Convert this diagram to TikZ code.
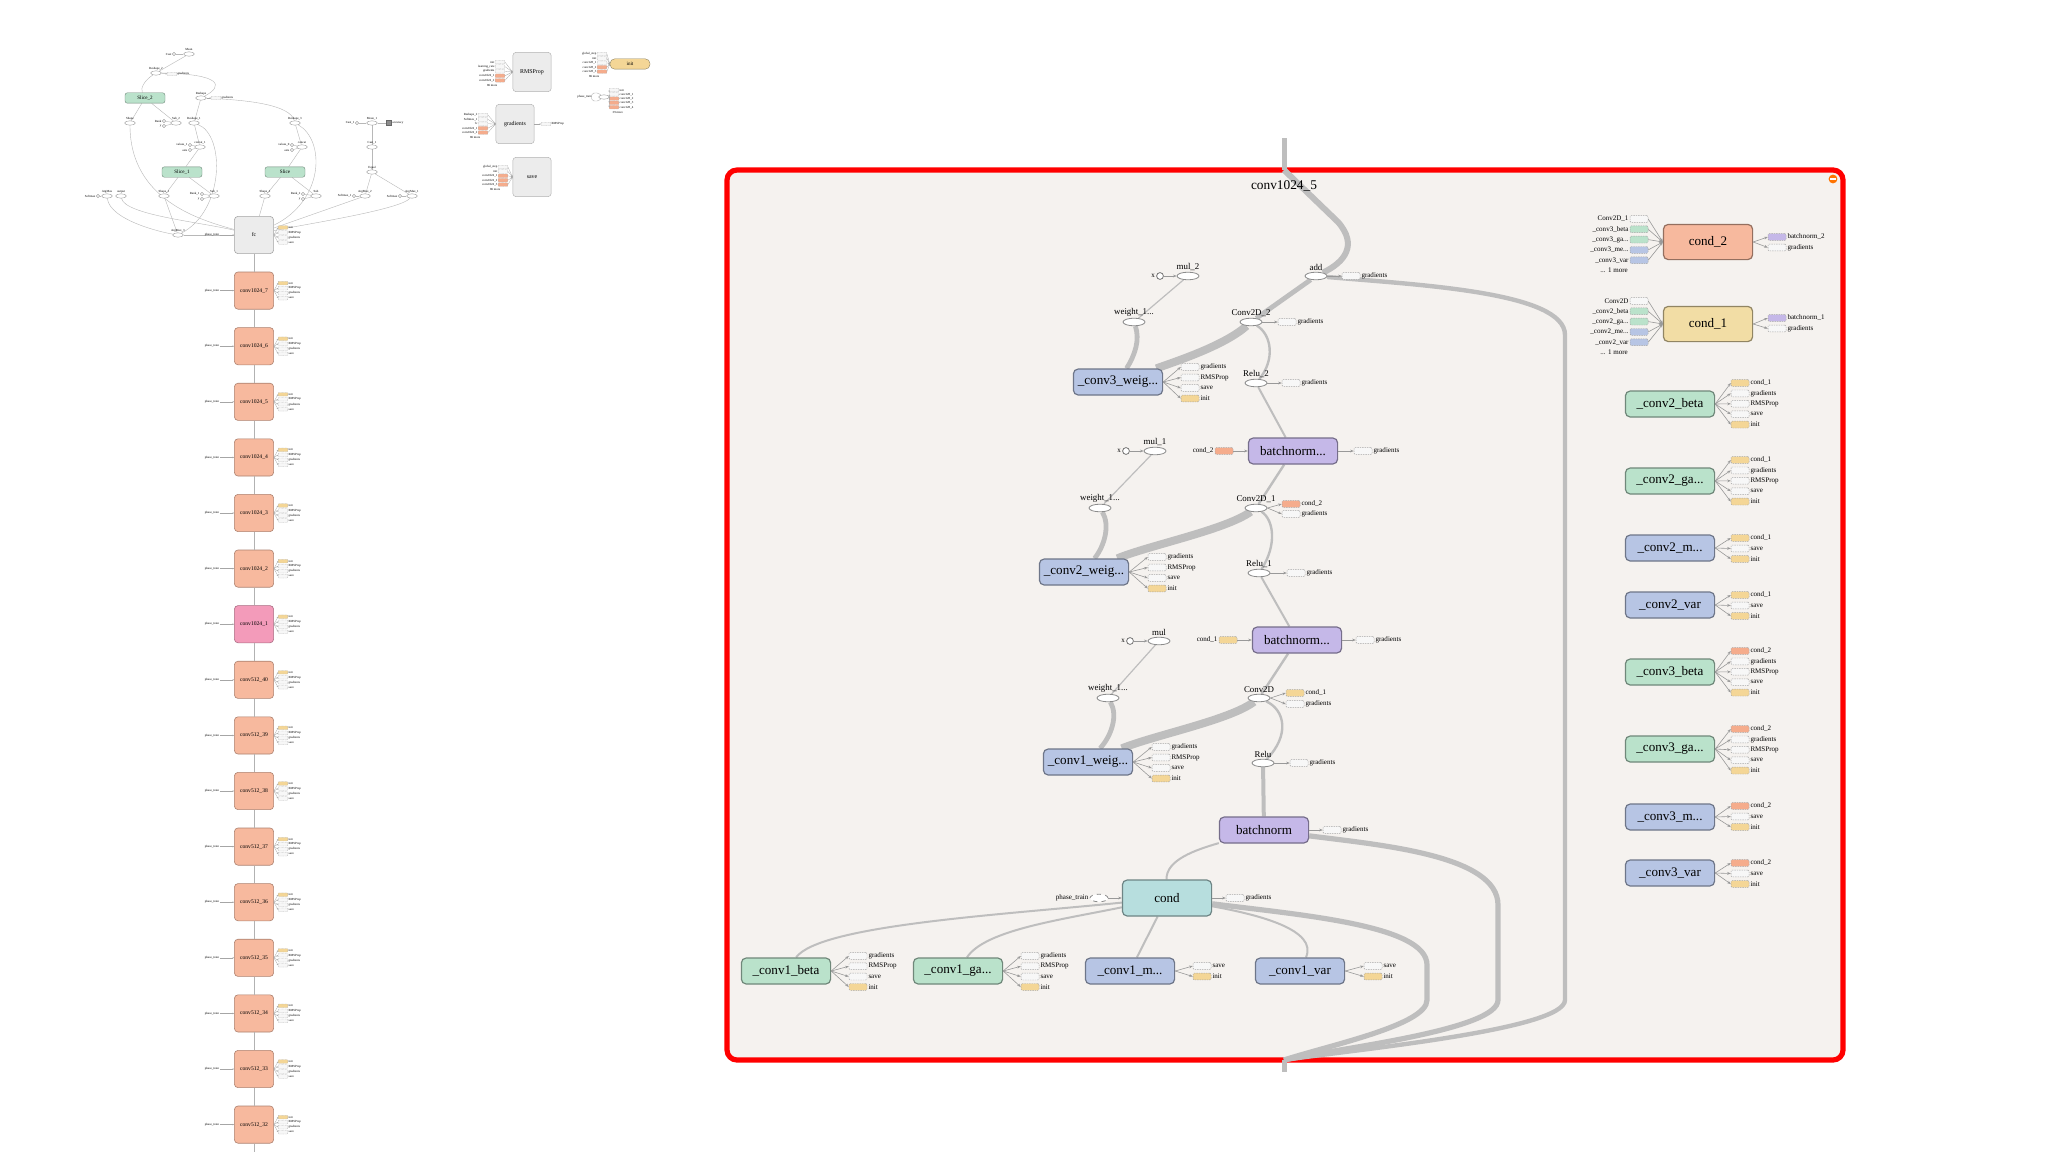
\documentclass[tikz,border=0pt]{standalone}
\usepackage{fontspec}
\setmainfont{Liberation Serif}
\usetikzlibrary{arrows.meta,shapes.geometric}

\definecolor{bgc}{RGB}{245,242,239}
\definecolor{edgegrey}{RGB}{190,190,190}
\definecolor{wblue}{RGB}{183,197,228}
\definecolor{bpurple}{RGB}{197,184,232}
\definecolor{cteal}{RGB}{183,222,222}
\definecolor{vgreen}{RGB}{186,226,203}
\definecolor{csalmon}{RGB}{247,185,158}
\definecolor{cyellow}{RGB}{242,221,165}
\definecolor{cpink}{RGB}{243,155,186}
\definecolor{fcgrey}{RGB}{236,236,236}
\definecolor{satw}{RGB}{247,247,247}
\definecolor{saty}{RGB}{244,214,150}
\definecolor{sato}{RGB}{245,172,140}
\definecolor{satg}{RGB}{186,226,203}
\definecolor{satb}{RGB}{183,197,228}
\definecolor{satp}{RGB}{197,184,232}

\pgfdeclarelayer{bg}
\pgfdeclarelayer{edges}
\pgfsetlayers{bg,edges,main}

\tikzset{
  op/.style={ellipse, draw=black!45, fill=white, line width=0.2mm, minimum width=5.5mm, minimum height=1.9mm, inner sep=0pt},
  oplbl/.style={font=\fontsize{6.3}{7}\selectfont, inner sep=0.6pt},
  xin/.style={circle, draw=black!55, fill=white, line width=0.2mm, minimum size=1.7mm, inner sep=0pt},
  grp/.style={rectangle, rounded corners=1.2mm, draw=#1!60!black, fill=#1, line width=0.3mm, minimum width=22.3mm, minimum height=6.5mm, inner sep=0pt, font=\fontsize{9.3}{11}\selectfont},
  satbox/.style={rectangle, rounded corners=0.3mm, draw=black!35, dash pattern=on 0.35mm off 0.25mm, line width=0.12mm, minimum width=4.5mm, minimum height=1.7mm, inner sep=0pt},
  satlbl/.style={font=\fontsize{5}{6}\selectfont, inner sep=0.7pt},
  satedge/.style={draw=black!40, line width=0.15mm, -{Stealth[length=0.9mm, width=0.7mm]}},
  flow/.style={draw=edgegrey, line width=#1},
  colnode/.style={rectangle, rounded corners=0.9mm, draw=#1!70!black, fill=#1, line width=0.15mm, minimum width=9.8mm, minimum height=9.3mm, inner sep=0pt, font=\fontsize{4}{5}\selectfont},
  colline/.style={draw=black!30, line width=0.12mm},
  tinybox/.style={rectangle, rounded corners=0.15mm, draw=black!30, dash pattern=on 0.2mm off 0.15mm, line width=0.06mm, minimum width=2.4mm, minimum height=0.9mm, inner sep=0pt},
  tinylbl/.style={font=\fontsize{2.2}{2.6}\selectfont, inner sep=0.3pt},
  tinyedge/.style={draw=black!35, line width=0.07mm, -{Stealth[length=0.4mm, width=0.35mm]}},
  sop/.style={ellipse, draw=black!45, fill=white, line width=0.08mm, minimum width=2.7mm, minimum height=1.1mm, inner sep=0pt},
  sxin/.style={circle, draw=black!50, fill=white, line width=0.08mm, minimum size=0.85mm, inner sep=0pt},
  slice/.style={rectangle, rounded corners=0.6mm, draw=vgreen!60!black, fill=vgreen, line width=0.1mm, minimum width=10mm, minimum height=2.6mm, inner sep=0pt, font=\fontsize{3.6}{4}\selectfont},
  sedge/.style={draw=black!28, line width=0.1mm},
  pan/.style={rectangle, rounded corners=0.8mm, draw=black!30, fill=fcgrey, line width=0.12mm, minimum width=9.6mm, minimum height=9.8mm, inner sep=0pt, font=\fontsize{4.2}{5}\selectfont},
}

% three dots, kept out of \foreach lists
\newcommand\trd{...}

% satellites to the right / to the left of a node
\newcommand\satsright[6][sat]{%
  \foreach \col/\lbl [count=\i] in {#6}{%
    \node[#1box, fill=\col] (#2-r\i) at (#3,#4+#5*\i-#5) {};
    \node[#1lbl, anchor=west] (#2-rt\i) at (#2-r\i.east) {\lbl};
    \draw[#1edge] (#2.east) -- (#2-r\i.west);
  }}
\newcommand\satsleft[6][sat]{%
  \foreach \col/\lbl [count=\i] in {#6}{%
    \node[#1box, fill=\col] (#2-l\i) at (#3,#4+#5*\i-#5) {};
    \node[#1lbl, anchor=east] (#2-lt\i) at (#2-l\i.west) {\lbl};
    \draw[#1edge] (#2-l\i.east) -- (#2.west);
  }}

\begin{document}
\begin{tikzpicture}[x=0.25mm, y=-0.25mm]
\begin{pgfonlayer}{bg}
\fill[white] (0,0) rectangle (2048,1152);
\draw[line width=1.3mm, draw=red, fill=bgc, rounded corners=2.5mm] (727,170) rectangle (1843,1060);
\end{pgfonlayer}
\useasboundingbox (0,0) rectangle (2048,1152);

% ---------- expanded conv1024_5 ----------
\node[circle, fill=orange!90!red, minimum size=2.2mm, inner sep=0pt] (minus) at (1833,179) {};
\draw[white, line width=0.35mm] ([xshift=-0.7mm]minus.center) -- ([xshift=0.7mm]minus.center);
\node[font=\fontsize{9.5}{11}\selectfont] (title) at (1284,186) {conv1024\_5};
\coordinate (topin) at (1284,138);
\coordinate (topjoin) at (1284,170);
\coordinate (botout) at (1284,1060);
\coordinate (botend) at (1284,1072);

\node[op, label={[oplbl]above:add}] (add) at (1316,276) {};
\node[op, label={[oplbl]above:mul\_2}] (mul2) at (1188,276) {};
\node[xin, label={[satlbl]left:x}] (xa) at (1160,276) {};
\node[op, label={[oplbl]above:weight\_1\trd}] (wa) at (1134,322) {};
\node[op, label={[oplbl]above:Conv2D\_2}] (cva) at (1251,322) {};
\node[op, label={[oplbl]above:Relu\_2}] (rla) at (1256,383) {};
\node[op, label={[oplbl]above:mul\_1}] (mul1) at (1155,451) {};
\node[xin, label={[satlbl]left:x}] (xb) at (1126,451) {};
\node[op, label={[oplbl]above:weight\_1\trd}] (wb) at (1100,508) {};
\node[op, label={[oplbl]above:Conv2D\_1}] (cvb) at (1256,508) {};
\node[op, label={[oplbl]above:Relu\_1}] (rlb) at (1259,573) {};
\node[op, label={[oplbl]above:mul}] (mul0) at (1159,641) {};
\node[xin, label={[satlbl]left:x}] (xc) at (1130,641) {};
\node[op, label={[oplbl]above:weight\_1\trd}] (wc) at (1108,698) {};
\node[op, label={[oplbl]above:Conv2D}] (cvc) at (1259,698) {};
\node[op, label={[oplbl]above:Relu}] (rlc) at (1263,763) {};
\node[op, dashed, minimum width=4.5mm, label={[satlbl]left:phase\_train}] (ph0) at (1099,898) {};

\node[grp=wblue] (w3) at (1118,382) {\_conv3\_weig\trd};
\node[grp=bpurple] (bn2) at (1293,451) {batchnorm\trd};
\node[grp=wblue] (w2) at (1084,572) {\_conv2\_weig\trd};
\node[grp=bpurple] (bn1) at (1297,640) {batchnorm\trd};
\node[grp=wblue] (w1) at (1088,762) {\_conv1\_weig\trd};
\node[grp=bpurple] (bn0) at (1264,830) {batchnorm};
\node[grp=cteal, minimum height=9mm] (cond) at (1167,898) {cond};
\node[grp=vgreen] (b1) at (786,971) {\_conv1\_beta};
\node[grp=vgreen] (g1) at (958,971) {\_conv1\_ga\trd};
\node[grp=wblue] (m1) at (1130,971) {\_conv1\_m\trd};
\node[grp=wblue] (v1) at (1300,971) {\_conv1\_var};
\node[grp=csalmon, minimum height=8.8mm] (cd2) at (1708,242) {cond\_2};
\node[grp=cyellow, minimum height=8.8mm] (cd1) at (1708,324) {cond\_1};
\foreach \nm/\lbl/\col/\yy in {b2/\_conv2\_beta/vgreen/404, g2/\_conv2\_ga\trd/vgreen/481,
    m2/\_conv2\_m\trd/wblue/548, v2/\_conv2\_var/wblue/605, b3/\_conv3\_beta/vgreen/672,
    g3/\_conv3\_ga\trd/vgreen/749, m3/\_conv3\_m\trd/wblue/817, v3/\_conv3\_var/wblue/873}
  \node[grp=\col] (\nm) at (1670,\yy) {\lbl};

\satsright{add}{1351}{276}{0}{satw/gradients}
\satsright{cva}{1287}{322}{0}{satw/gradients}
\satsright{w3}{1190}{367}{10.5}{satw/gradients, satw/RMSProp, satw/save, saty/init}
\satsright{rla}{1291}{383}{0}{satw/gradients}
\satsright{bn2}{1363}{451}{0}{satw/gradients}
\satsleft{bn2}{1224}{451}{0}{sato/cond\_2}
\satsright{cvb}{1291}{504}{10}{sato/cond\_2, satw/gradients}
\satsright{w2}{1157}{557}{10.5}{satw/gradients, satw/RMSProp, satw/save, saty/init}
\satsright{rlb}{1296}{573}{0}{satw/gradients}
\satsright{bn1}{1365}{640}{0}{satw/gradients}
\satsleft{bn1}{1228}{640}{0}{saty/cond\_1}
\satsright{cvc}{1295}{693}{11}{saty/cond\_1, satw/gradients}
\satsright{w1}{1161}{747}{10.5}{satw/gradients, satw/RMSProp, satw/save, saty/init}
\satsright{rlc}{1299}{763}{0}{satw/gradients}
\satsright{bn0}{1332}{830}{0}{satw/gradients}
\satsright{cond}{1235}{898}{0}{satw/gradients}
\satsright{b1}{858}{956}{10.3}{satw/gradients, satw/RMSProp, satw/save, saty/init}
\satsright{g1}{1030}{956}{10.3}{satw/gradients, satw/RMSProp, satw/save, saty/init}
\satsright{m1}{1202}{966}{10.5}{satw/save, saty/init}
\satsright{v1}{1373}{966}{10.5}{satw/save, saty/init}
\satsright{cd2}{1777}{237}{10.5}{satp/batchnorm\_2, satw/gradients}
\satsleft{cd2}{1639}{219}{10.3}{satw/Conv2D\_1, satg/\_conv3\_beta, satg/\_conv3\_ga\trd, satb/\_conv3\_me\trd, satb/\_conv3\_var}
\node[satlbl, anchor=east] (cd2m) at (1629,270) {\trd{} 1 more};
\satsright{cd1}{1777}{318}{10.5}{satp/batchnorm\_1, satw/gradients}
\satsleft{cd1}{1639}{301}{10.3}{satw/Conv2D, satg/\_conv2\_beta, satg/\_conv2\_ga\trd, satb/\_conv2\_me\trd, satb/\_conv2\_var}
\node[satlbl, anchor=east] (cd1m) at (1629,352) {\trd{} 1 more};
\satsright{b2}{1740}{383}{10.4}{saty/cond\_1, satw/gradients, satw/RMSProp, satw/save, saty/init}
\satsright{g2}{1740}{460}{10.4}{saty/cond\_1, satw/gradients, satw/RMSProp, satw/save, saty/init}
\satsright{m2}{1740}{538}{10.5}{saty/cond\_1, satw/save, saty/init}
\satsright{v2}{1740}{595}{10.5}{saty/cond\_1, satw/save, saty/init}
\satsright{b3}{1740}{651}{10.4}{sato/cond\_2, satw/gradients, satw/RMSProp, satw/save, saty/init}
\satsright{g3}{1740}{729}{10.4}{sato/cond\_2, satw/gradients, satw/RMSProp, satw/save, saty/init}
\satsright{m3}{1740}{806}{10.5}{sato/cond\_2, satw/save, saty/init}
\satsright{v3}{1740}{863}{10.5}{sato/cond\_2, satw/save, saty/init}

\draw[satedge] (xa) -- (mul2);
\draw[satedge] (xb) -- (mul1);
\draw[satedge] (xc) -- (mul0);
\draw[satedge] (ph0) -- (cond);

\begin{pgfonlayer}{edges}
\draw[flow=1.25mm] (topin) -- (topjoin);
\draw[flow=1.5mm] (topjoin) -- (1338,222) .. controls (1358,245) and (1345,262) .. (add);
\draw[flow=1.2mm] (add) -- (cva);
\draw[flow=2mm] (cva) .. controls (1225,345) and (1180,360) .. (w3);
\draw[flow=1.2mm] (wa) .. controls (1140,340) and (1135,355) .. (w3);
\draw[flow=0.3mm] (mul2) -- (wa);
\draw[flow=0.6mm] (cva) .. controls (1272,335) and (1275,360) .. (rla);
\draw[flow=0.5mm] (rla) -- (bn2);
\draw[flow=0.6mm] (bn2) -- (cvb);
\draw[flow=2mm] (cvb) .. controls (1225,530) and (1150,545) .. (w2);
\draw[flow=1.2mm] (wb) .. controls (1110,525) and (1105,545) .. (w2);
\draw[flow=0.3mm] (mul1) -- (wb);
\draw[flow=0.6mm] (cvb) .. controls (1274,520) and (1277,545) .. (rlb);
\draw[flow=0.5mm] (rlb) -- (bn1);
\draw[flow=0.6mm] (bn1) -- (cvc);
\draw[flow=2mm] (cvc) .. controls (1230,720) and (1155,735) .. (w1);
\draw[flow=1.2mm] (wc) .. controls (1118,715) and (1112,735) .. (w1);
\draw[flow=0.3mm] (mul0) -- (wc);
\draw[flow=0.6mm] (cvc) .. controls (1285,710) and (1290,735) .. (rlc);
\draw[flow=1mm] (rlc) -- (bn0);
\draw[flow=0.5mm] (bn0) .. controls (1195,850) and (1166,860) .. (cond);
\draw[flow=0.5mm] (cond) .. controls (1000,915) and (820,925) .. (b1);
\draw[flow=0.5mm] (cond) .. controls (1060,920) and (985,930) .. (g1);
\draw[flow=0.5mm] (cond) -- (m1);
\draw[flow=0.5mm] (cond) .. controls (1260,915) and (1318,930) .. (v1);
\draw[flow=1.3mm] (cond) .. controls (1300,915) and (1427,925) .. (1427,965) -- (1427,1000)
  .. controls (1427,1025) and (1330,1045) .. (botout);
\draw[flow=1.3mm] (bn0) .. controls (1380,845) and (1498,855) .. (1498,905) -- (1498,1000)
  .. controls (1498,1030) and (1340,1048) .. (botout);
\draw[flow=1.1mm] (add) .. controls (1420,285) and (1565,292) .. (1565,335) -- (1565,1000)
  .. controls (1565,1030) and (1350,1050) .. (botout);
\draw[flow=1.25mm] (botout) -- (botend);
\end{pgfonlayer}

% ---------- main column ----------
\node[colnode=fcgrey] (c0) at (254,235) {fc};
\foreach \lbl/\col [count=\k] in {conv1024\_7/csalmon, conv1024\_6/csalmon, conv1024\_5/csalmon,
    conv1024\_4/csalmon, conv1024\_3/csalmon, conv1024\_2/csalmon, conv1024\_1/cpink,
    conv512\_40/csalmon, conv512\_39/csalmon, conv512\_38/csalmon, conv512\_37/csalmon,
    conv512\_36/csalmon, conv512\_35/csalmon, conv512\_34/csalmon, conv512\_33/csalmon, conv512\_32/csalmon}
  \node[colnode=\col] (c\k) at (254,235+55.6*\k) {\lbl};
\foreach \k [remember=\k as \j (initially 0)] in {1,...,16}
  \draw[colline] (c\j) -- (c\k);
\coordinate (colend) at (254,1152);
\draw[colline] (c16) -- (colend);
\foreach \k in {0,...,16}{
  \node[tinylbl] (p\k) at (212,235+55.6*\k) {phase\_train};
  \draw[tinyedge] (p\k) -- (c\k);
  \satsright[tiny]{c\k}{283}{235+55.6*\k-7.5}{5}{saty/init, satw/RMSProp, satw/gradients, satw/save}
}

% ---------- graph above fc ----------
\node[sop, label={[tinylbl]above:Mean}] (mean) at (189,54) {};
\node[sxin, label={[tinylbl]left:Cast}] (cast) at (174,54) {};
\node[sop, label={[tinylbl]above:Reshape\_2}] (rs2) at (156,73) {};
\satsright[tiny]{rs2}{172}{74}{0}{satw/gradients}
\node[slice] (sl2) at (145,98) {Slice\_2};
\node[sop, label={[tinylbl]above:Reshape}] (rs) at (201,98) {};
\satsright[tiny]{rs}{216}{98}{0}{satw/gradients}
\node[sop, label={[tinylbl]above:Shape}] (shp) at (130,123) {};
\node[sxin, label={[tinylbl]left:Rank}] (rk) at (164,121) {};
\node[sxin, label={[tinylbl]left:y}] (yk) at (164,126) {};
\node[sop, label={[tinylbl]above:Sub\_2}] (sub2) at (176,123) {};
\node[sop, label={[tinylbl]above:Reshape\_1}] (rs1) at (194,123) {};
\node[sop, label={[tinylbl]above:Reshape\_3}] (rs3) at (295,123) {};
\node[sxin, label={[tinylbl]left:Cast\_1}] (castb) at (357,123) {};
\node[sop, label={[tinylbl]above:Mean\_1}] (mean1) at (372,123) {};
\node[rectangle, draw=black!60, fill=black!45, minimum size=1.2mm, inner sep=0pt,
  label={[tinylbl]right:accuracy}] (acc) at (389,123) {};
\node[sxin, label={[tinylbl]left:values\_1}] (va) at (190,145) {};
\node[sxin, label={[tinylbl]left:axis}] (ax) at (190,150) {};
\node[sop, label={[tinylbl]above:concat\_1}] (cc1) at (200,147) {};
\node[sxin, label={[tinylbl]left:values\_0}] (vb) at (292,145) {};
\node[sxin, label={[tinylbl]left:axis}] (axb) at (292,150) {};
\node[sop, label={[tinylbl]above:concat}] (cc) at (302,147) {};
\node[sop, label={[tinylbl]above:Cast\_1}] (cast1) at (372,147) {};
\node[sop, label={[tinylbl]above:Equal}] (eq) at (372,172) {};
\node[slice] (sl1) at (182,172) {Slice\_1};
\node[slice] (sl) at (285,172) {Slice};
\node[sxin, label={[tinylbl]left:Softmax}] (smx) at (98,196) {};
\node[sop, label={[tinylbl]above:ArgMax}] (am) at (107,196) {};
\node[sop, label={[tinylbl]above:output}] (out) at (121,196) {};
\node[sop, label={[tinylbl]above:Shape\_1}] (shp1) at (164,196) {};
\node[sxin, label={[tinylbl]left:Rank\_1}] (rk1) at (202,194) {};
\node[sxin, label={[tinylbl]left:y}] (yk1) at (202,199) {};
\node[sop, label={[tinylbl]above:Sub\_1}] (sub1) at (214,196) {};
\node[sop, label={[tinylbl]above:Shape\_2}] (shp2) at (265,196) {};
\node[sxin, label={[tinylbl]left:Rank\_2}] (rk2) at (303,194) {};
\node[sxin, label={[tinylbl]left:y}] (yk2) at (303,199) {};
\node[sop, label={[tinylbl]above:Sub}] (sub) at (316,196) {};
\node[sxin, label={[tinylbl]left:Softmax\_1}] (smx2) at (354,196) {};
\node[sop, label={[tinylbl]above:ArgMax\_2}] (am2) at (365,196) {};
\node[sxin, label={[tinylbl]left:Softmax}] (smx1) at (400,196) {};
\node[sop, label={[tinylbl]above:ArgMax\_1}] (am1) at (412,196) {};
\node[sop, label={[tinylbl]above:ArgMax\_3}] (am3) at (178,235) {};

\begin{pgfonlayer}{edges}
\draw[sedge] (cast) -- (mean);
\draw[sedge] (rs2) -- (mean);
\draw[sedge] (rs2) .. controls (145,80) and (140,88) .. (sl2);
\draw[sedge] (rs2) .. controls (222,74) and (224,86) .. (rs);
\draw[sedge] (sl2) -- (shp);
\draw[sedge] (sl2) -- (sub2);
\draw[sedge] (rk) -- (sub2);
\draw[sedge] (yk) -- (sub2);
\draw[sedge] (rs) -- (rs1);
\draw[sedge] (rs) .. controls (250,100) and (290,105) .. (rs3);
\draw[sedge] (rs1) -- (cc1);
\draw[sedge] (va) -- (cc1);
\draw[sedge] (ax) -- (cc1);
\draw[sedge] (vb) -- (cc);
\draw[sedge] (axb) -- (cc);
\draw[sedge] (rs3) -- (cc);
\draw[sedge] (cc1) -- (sl1);
\draw[sedge] (cc) -- (sl);
\draw[sedge] (sl1) -- (shp1);
\draw[sedge] (sl1) -- (sub1);
\draw[sedge] (sl) -- (shp2);
\draw[sedge] (sl) -- (sub);
\draw[sedge] (rk1) -- (sub1);
\draw[sedge] (yk1) -- (sub1);
\draw[sedge] (rk2) -- (sub);
\draw[sedge] (yk2) -- (sub);
\draw[sedge] (castb) -- (mean1);
\draw[sedge] (mean1) -- (acc);
\draw[sedge] (mean1) -- (cast1);
\draw[sedge] (cast1) -- (eq);
\draw[sedge] (eq) -- (am2);
\draw[sedge] (eq) -- (am1);
\draw[sedge] (smx) -- (am);
\draw[sedge] (smx2) -- (am2);
\draw[sedge] (smx1) -- (am1);
\draw[sedge] (shp) .. controls (130,200) and (200,220) .. (c0);
\draw[sedge] (am) .. controls (110,220) and (160,232) .. (am3);
\draw[sedge] (out) .. controls (125,215) and (200,222) .. (c0);
\draw[sedge] (shp1) -- (am3);
\draw[sedge] (rs1) .. controls (225,135) and (225,210) .. (am3);
\draw[sedge] (am3) -- (c0);
\draw[sedge] (shp2) -- (c0);
\draw[sedge] (rs3) .. controls (325,140) and (325,200) .. (c0);
\draw[sedge] (am2) -- (c0);
\draw[sedge] (am1) .. controls (400,210) and (300,225) .. (c0);
\end{pgfonlayer}

% ---------- auxiliary nodes ----------
\node[pan] (rmsp) at (532,72) {RMSProp};
\node[pan] (grads) at (515,124) {gradients};
\node[pan] (savep) at (532,177) {save};
\node[rectangle, rounded corners=1.2mm, draw=cyellow!60!black, fill=saty, line width=0.1mm,
  minimum width=10mm, minimum height=2.6mm, inner sep=0pt, font=\fontsize{3.6}{4}\selectfont] (initp) at (630,64) {init};
\satsleft[tiny]{rmsp}{500}{62}{4.6}{satw/init, satw/learning\_rate, satw/gradients, sato/conv1024\_1, sato/conv1024\_2}
\node[tinylbl, anchor=east] (rmspm) at (498,85) {86 more};
\satsleft[tiny]{grads}{483}{115}{4.4}{satw/Reshape\_2, satw/Softmax\_1, satw/fc, sato/conv1024\_1, sato/conv1024\_2}
\node[tinylbl, anchor=east] (gradsm) at (481,137) {86 more};
\satsright[tiny]{grads}{546}{124}{0}{satw/RMSProp}
\satsleft[tiny]{savep}{503}{167}{4.4}{satw/global\_step, satw/init, sato/conv1024\_1, sato/conv1024\_2, sato/conv1024\_3}
\node[tinylbl, anchor=east] (savepm) at (501,189) {86 more};
\satsleft[tiny]{initp}{602}{54}{4.4}{satw/global\_step, satw/init, satw/conv128\_1, sato/conv128\_2, sato/conv128\_3}
\node[tinylbl, anchor=east] (initpm) at (600,76) {86 more};
\node[sop, label={[tinylbl, xshift=-1.5mm]left:phase\_train}] (php) at (604,97) {};
\draw[sedge] (php) .. controls (588,86) and (588,108) .. (php);
\satsright[tiny]{php}{614}{90}{4.3}{satw/init, satw/conv128\_1, sato/conv128\_2, sato/conv128\_3, sato/conv128\_4}
\node[tinylbl, anchor=west] (phpm) at (612,112) {39 more};
\end{tikzpicture}
\end{document}
